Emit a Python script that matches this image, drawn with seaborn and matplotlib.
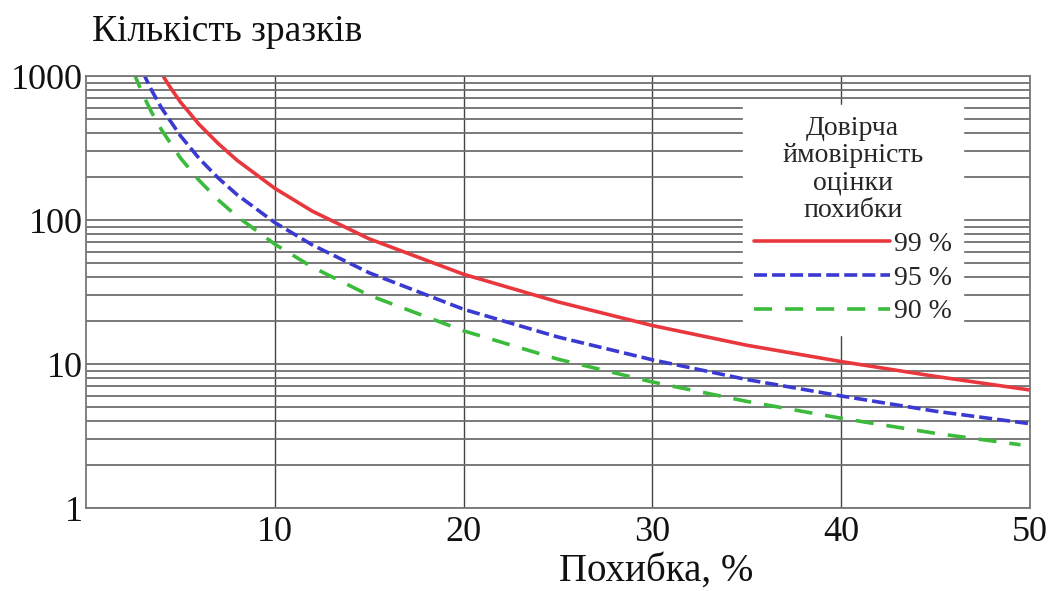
import numpy as np
import pandas as pd
import matplotlib
matplotlib.use("Agg")
import matplotlib.pyplot as plt
from matplotlib.ticker import FixedLocator, LogLocator, NullFormatter
import seaborn as sns

# ---- data ----
x99 = [4.0, 4.5, 5, 6, 7, 8, 10, 12, 15, 20, 25, 30, 35, 40, 45, 50]
y99 = [1040, 820, 660, 460, 340, 260, 166, 115, 74, 42, 27, 18.5, 13.5, 10.4, 8.2, 6.6]

x95 = [3.0, 3.5, 4, 5, 6, 7, 8, 10, 12, 15, 20, 25, 30, 35, 40, 45, 50]
y95 = [1070, 785, 600, 385, 267, 196, 150, 96, 67, 43, 24, 15.4, 10.7, 7.8, 6.0, 4.7, 3.85]

x90 = [2.5, 3, 3.5, 4, 5, 6, 7, 8, 10, 12, 15, 20, 25, 30, 35, 40, 45, 49.5]
y90 = [1080, 750, 552, 423, 270, 188, 138, 106, 68, 47, 30, 17, 10.8, 7.5, 5.5, 4.2, 3.3, 2.75]

series_labels = ["99 %", "95 %", "90 %"]
x_ticks = [10, 20, 30, 40, 50]
y_ticks = [1, 10, 100, 1000]
y_tick_labels = ["1", "10", "100", "1000"]

title_text = "Кількість зразків"
x_label = "Похибка, %"
legend_title = "Довірча\nймовірність\nоцінки\nпохибки"

# ---- styling ----
sns.set_theme(style="white")
plt.rcParams["font.family"] = ["Liberation Serif", "DejaVu Serif"]

colors = ["#e8383d", "#3a3ad2", "#3cba3c"]
styles = ["-", (0, (3.6, 1.4)), (0, (5.0, 3.6))]

fig = plt.figure(figsize=(10.51, 5.91), dpi=100)
ax = fig.add_axes([0.0818, 0.1404, 0.98 - 0.0818, 0.8714 - 0.1404])

for xs, ys, lab, c, ls in zip([x99, x95, x90], [y99, y95, y90], series_labels, colors, styles):
    df = pd.DataFrame({"x": xs, "y": ys})
    sns.lineplot(data=df, x="x", y="y", ax=ax, color=c, linestyle=ls,
                 linewidth=2.6, label=lab, sort=True, estimator=None)

ax.set_yscale("log")
ax.set_xlim(0, 50)
ax.set_ylim(1, 1000)

ax.xaxis.set_major_locator(FixedLocator(x_ticks))
ax.set_xticklabels([str(t) for t in x_ticks])
ax.yaxis.set_major_locator(FixedLocator(y_ticks))
ax.set_yticklabels(y_tick_labels)
ax.yaxis.set_minor_locator(LogLocator(base=10, subs=np.arange(2, 10)))
ax.yaxis.set_minor_formatter(NullFormatter())

ax.tick_params(axis="both", which="both", length=0)
ax.tick_params(axis="x", labelsize=26, pad=6, colors="#111111")
ax.tick_params(axis="y", labelsize=26, pad=2, colors="#111111")

ax.grid(True, axis="y", which="both", color="#6e6e6e", linewidth=1.3)
ax.grid(True, axis="x", which="major", color="#444444", linewidth=1.0)
ax.set_axisbelow(True)
for s in ax.spines.values():
    s.set_visible(True)
    s.set_color("#777777")
    s.set_linewidth(1.3)

ax.set_xlabel("")
ax.set_ylabel("")

fig.text(0.088, 0.946, title_text, fontsize=27, ha="left", va="center", color="#111111")
fig.text(0.624, 0.018, x_label, fontsize=28, ha="center", va="baseline", color="#111111")

leg = ax.legend(title=legend_title, loc="upper right",
                bbox_to_anchor=(963 / 1051, 1 - 105 / 591),
                bbox_transform=fig.transFigure, borderaxespad=0,
                fontsize=20, title_fontsize=20, handlelength=4.9,
                handletextpad=0.15, labelspacing=0.3, frameon=True,
                fancybox=False, framealpha=1.0, borderpad=0.4)
leg.get_frame().set_facecolor("white")
leg.get_frame().set_edgecolor("white")
leg.get_title().set_multialignment("center")
leg.get_title().set_linespacing(1.12)

fig.savefig("out.png", dpi=100)
